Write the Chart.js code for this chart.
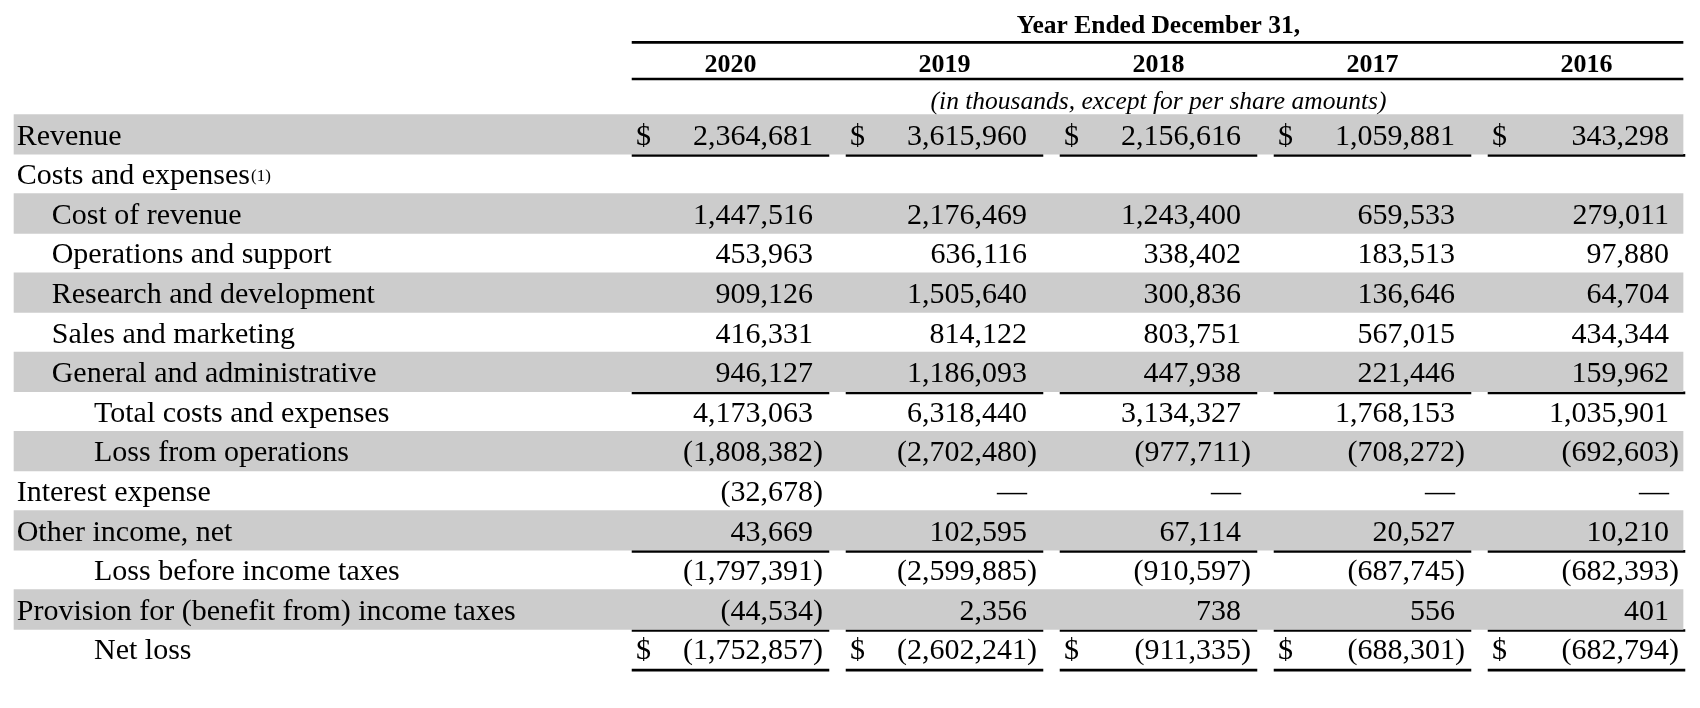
<!DOCTYPE html>
<html>
<head>
<meta charset="utf-8">
<script src="https://cdn.jsdelivr.net/npm/chart.js@4.4.1/dist/chart.umd.min.js"></script>
<style>
  html, body { margin: 0; padding: 0; background: #fff; }
  #wrap { width: 1700px; height: 708px; position: relative; }
</style>
</head>
<body>
<div id="wrap"><canvas id="table-chart"></canvas></div>
<script>
    // Table text
    const headerTitle = 'Year Ended December 31,';
    const headerNote = '(in thousands, except for per share amounts)';
    const years = ['2020', '2019', '2018', '2017', '2016'];

    const rowLabels = [
        'Revenue',
        'Costs and expenses',
        'Cost of revenue',
        'Operations and support',
        'Research and development',
        'Sales and marketing',
        'General and administrative',
        'Total costs and expenses',
        'Loss from operations',
        'Interest expense',
        'Other income, net',
        'Loss before income taxes',
        'Provision for (benefit from) income taxes',
        'Net loss'
    ];

    // Values per year (in thousands), null = empty cell, 0 = dash
    const values2020 = [2364681, null, 1447516, 453963, 909126, 416331, 946127, 4173063, -1808382, -32678, 43669, -1797391, -44534, -1752857];
    const values2019 = [3615960, null, 2176469, 636116, 1505640, 814122, 1186093, 6318440, -2702480, 0, 102595, -2599885, 2356, -2602241];
    const values2018 = [2156616, null, 1243400, 338402, 300836, 803751, 447938, 3134327, -977711, 0, 67114, -910597, 738, -911335];
    const values2017 = [1059881, null, 659533, 183513, 136646, 567015, 221446, 1768153, -708272, 0, 20527, -687745, 556, -688301];
    const values2016 = [343298, null, 279011, 97880, 64704, 434344, 159962, 1035901, -692603, 0, 10210, -682393, 401, -682794];

    // Layout: indent level of each label, shaded rows, underlined rows, rows with $
    const indentLevel = [0, 0, 1, 1, 1, 1, 1, 2, 2, 0, 0, 2, 0, 2];
    const shadedRows = [0, 2, 4, 6, 8, 10, 12];
    const underlinedRows = [0, 6, 10, 12, 13];
    const dollarRows = [0, 13];

    const columns = [values2020, values2019, values2018, values2017, values2016];

    const FONT = '"Liberation Serif", "Times New Roman", serif';
    const ROW_PX = 39.6;
    const COL_PX = 214;
    const BODY_SIZE = 30;

    // x in column units (column k centred on k), y in row units (row r centred on r)
    const X0 = 516.5, Y0 = 134.3;
    const HALF_COL = 0.46;
    const bandLeft = -2.348, bandRight = 5.451;
    const ruleLeft = 1 - HALF_COL;
    const labelX = [-2.3355, -2.172, -1.9743];
    const numRight = 0.3855, dollarLeft = -0.4416;

    function fmt(v) {
        return Math.abs(v).toLocaleString('en-US');
    }

    // shaded row bands
    const bandData = shadedRows.map(r => ({ x: [bandLeft, bandRight], y: r }));

    // rules: two header rules, then column underlines
    const ruleData = [
        { x: [ruleLeft, bandRight], y: -2.323 },
        { x: [ruleLeft, bandRight], y: -1.396 }
    ];
    underlinedRows.forEach(r => {
        years.forEach((yr, i) => {
            const c = i + 1;
            ruleData.push({ x: [c - HALF_COL, c + HALF_COL], y: r + 0.5 + 1.2 / ROW_PX });
        });
    });

    const tableText = {
        id: 'tableText',
        afterDatasetsDraw(chart) {
            const ctx = chart.ctx;
            const xs = chart.scales.x, ys = chart.scales.y;
            const base = (r, size) => ys.getPixelForValue(r) + size * 0.34;
            ctx.save();
            ctx.fillStyle = '#000';
            ctx.textBaseline = 'alphabetic';

            // header
            ctx.textAlign = 'center';
            ctx.font = 'bold 25.5px ' + FONT;
            ctx.fillText(headerTitle, xs.getPixelForValue(3), base(-2.785, 25.5));
            ctx.font = 'bold 26px ' + FONT;
            years.forEach((yr, i) => {
                ctx.fillText(yr, xs.getPixelForValue(i + 1), base(-1.80, 26));
            });
            ctx.font = 'italic 25.5px ' + FONT;
            ctx.fillText(headerNote, xs.getPixelForValue(3), base(-0.866, 25.5));

            // row labels
            ctx.textAlign = 'left';
            rowLabels.forEach((label, r) => {
                ctx.font = BODY_SIZE + 'px ' + FONT;
                const lx = xs.getPixelForValue(labelX[indentLevel[r]]);
                const ly = base(r, BODY_SIZE);
                ctx.fillText(label, lx, ly);
                if (r === 1) {
                    const w = ctx.measureText(label).width;
                    ctx.font = '17px ' + FONT;
                    ctx.fillText('(1)', lx + w + 1, ly - 3);
                }
            });

            // numbers
            ctx.font = BODY_SIZE + 'px ' + FONT;
            columns.forEach((vals, i) => {
                const c = i + 1;
                const rx = xs.getPixelForValue(c + numRight);
                vals.forEach((v, r) => {
                    if (v === null) return;
                    const ly = base(r, BODY_SIZE);
                    ctx.textAlign = 'right';
                    if (v === 0) {
                        ctx.fillText('\u2014', rx, ly);
                    } else if (v < 0) {
                        ctx.fillText('(' + fmt(v), rx, ly);
                        ctx.textAlign = 'left';
                        ctx.fillText(')', rx, ly);
                    } else {
                        ctx.fillText(fmt(v), rx, ly);
                    }
                    if (dollarRows.includes(r)) {
                        ctx.textAlign = 'left';
                        ctx.fillText('$', xs.getPixelForValue(c + dollarLeft), ly);
                    }
                });
            });
            ctx.restore();
        }
    };

    const canvas = document.querySelector('#table-chart');
    new Chart(canvas.getContext('2d'), {
        type: 'bar',
        data: {
            datasets: [
                {
                    label: 'bands',
                    data: bandData,
                    backgroundColor: '#cccccc',
                    barThickness: ROW_PX,
                    grouped: false
                },
                {
                    label: 'rules',
                    data: ruleData,
                    backgroundColor: '#000000',
                    barThickness: 2,
                    grouped: false
                }
            ]
        },
        options: {
            indexAxis: 'y',
            responsive: true,
            maintainAspectRatio: false,
            animation: false,
            events: [],
            layout: { padding: 0 },
            plugins: {
                legend: { display: false },
                tooltip: { enabled: false }
            },
            scales: {
                x: {
                    type: 'linear',
                    display: false,
                    offset: false,
                    min: -X0 / COL_PX,
                    max: (1700 - X0) / COL_PX
                },
                y: {
                    type: 'linear',
                    display: false,
                    offset: false,
                    grid: { offset: false },
                    reverse: true,
                    min: -Y0 / ROW_PX,
                    max: (708 - Y0) / ROW_PX
                }
            }
        },
        plugins: [tableText]
    });
</script>
</body>
</html>
